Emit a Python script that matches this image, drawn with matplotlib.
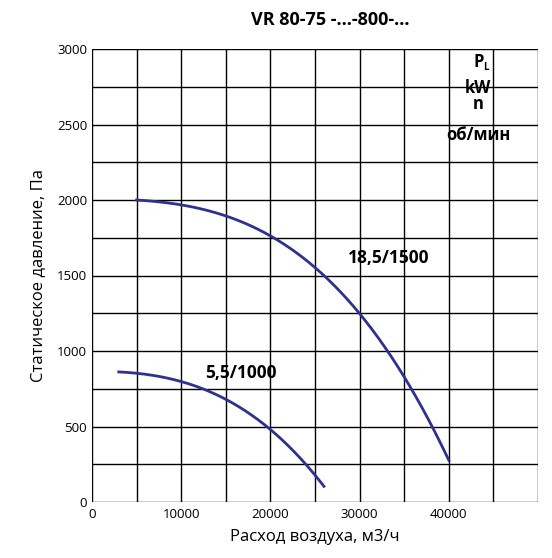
import matplotlib
matplotlib.use("Agg")
import matplotlib.pyplot as plt
import numpy as np

plt.rcParams['font.family'] = ['Open Sans', 'DejaVu Sans']

q_big = [5000, 10000, 15000, 20000, 25000, 30000, 35000, 40000]
p_big = [2000, 1970, 1890, 1760, 1560, 1250, 820, 280]
q_small = [3000, 8000, 12000, 16000, 20000, 23000, 26000]
p_small = [860, 830, 760, 640, 480, 320, 100]
xticks = [0, 10000, 20000, 30000, 40000]
yticks = [0, 500, 1000, 1500, 2000, 2500, 3000]

fig = plt.figure(figsize=(5.52, 5.58), dpi=100)
ax = fig.add_axes([92/552, 56/558, 446/552, 453/558])
col = '#2e3192'

def smooth(x, y):
    xs = np.linspace(x[0], x[-1], 200)
    c = np.polyfit(x, y, 3)
    return xs, np.polyval(c, xs)

for x, y in [(q_big, p_big), (q_small, p_small)]:
    xs, ys = smooth(x, y)
    ax.plot(xs, ys, color=col, lw=2)

ax.set_xlim(0, 50000)
ax.set_ylim(0, 3000)
ax.set_xticks(np.arange(0, 50001, 5000))
ax.set_yticks(np.arange(0, 3001, 250))
ax.grid(True, color='black', lw=1.0)
ax.set_xticklabels(['' for _ in ax.get_xticks()])
ax.set_yticklabels([str(int(v)) if v in yticks else '' for v in ax.get_yticks()])
for t in xticks:
    ax.text(t, -40, str(t), ha='center', va='top', fontsize=9.5)
ax.tick_params(axis='both', length=0, labelsize=9.5)
for s in ax.spines.values():
    s.set_visible(False)
ax.set_xlabel('Расход воздуха, м3/ч', fontsize=12, labelpad=16)
ax.set_ylabel('Статическое давление, Па', fontsize=12, labelpad=8)
fig.text(330/552, 1 - 20/558, 'VR 80-75 -...-800-...', ha='center', va='center', fontsize=13, fontweight='bold')
ax.text(28700, 1580, '18,5/1500', fontsize=12.5, fontweight='bold')
ax.text(12700, 820, '5,5/1000', fontsize=12.5, fontweight='bold')
ax.text(43300, 2880, 'P', fontsize=12, fontweight='bold', ha='center')
ax.text(44200, 2860, 'L', fontsize=7, fontweight='bold', ha='center')
ax.text(43300, 2710, 'kW', fontsize=12, fontweight='bold', ha='center')
ax.text(43300, 2600, 'n', fontsize=12, fontweight='bold', ha='center')
ax.text(43300, 2400, 'об/мин', fontsize=12, fontweight='bold', ha='center')
fig.savefig('out.png', dpi=100)
